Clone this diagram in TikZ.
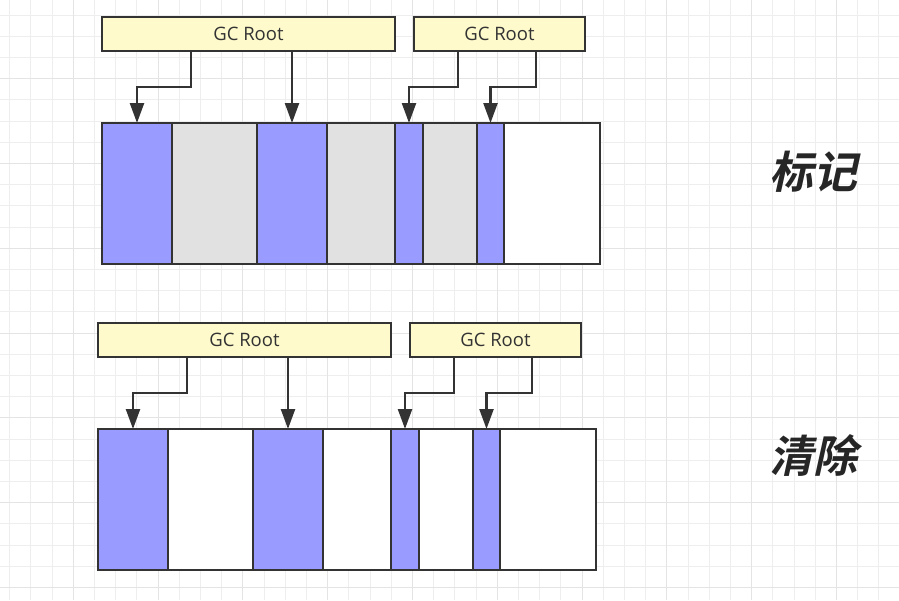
\documentclass[tikz,border=0pt]{standalone}
\usepackage{fontspec}
\usepackage{tikz}
\usetikzlibrary{arrows.meta,positioning}
\newfontfamily\uifont{Open Sans}
\newfontfamily\cjkfont[FakeSlant=0.22]{Noto Sans CJK SC Bold}
\definecolor{linec}{RGB}{51,51,51}
\definecolor{textc}{RGB}{51,51,51}
\definecolor{liveblue}{RGB}{153,155,255}
\definecolor{deadgrey}{RGB}{225,225,225}
\definecolor{rootyellow}{RGB}{254,250,204}
\definecolor{gridminor}{RGB}{238,238,238}
\definecolor{gridmajor}{RGB}{228,228,228}

\begin{document}
\begin{tikzpicture}[x=1pt,y=-1pt,
  cell/.style={draw=linec,line width=2.4pt,minimum height=141pt,inner sep=0pt,outer sep=0pt},
  live/.style={cell,fill=liveblue},
  root/.style={draw=linec,line width=2.4pt,fill=rootyellow,minimum height=34pt,
               inner sep=0pt,outer sep=0pt,text=textc,font=\uifont\fontsize{18.5}{18.5}\selectfont},
  arr/.style={-{Triangle[length=20pt,width=14pt]},line width=2.4pt,draw=linec},
  title/.style={font=\cjkfont\fontsize{44}{44}\selectfont,text=black!85}]
\useasboundingbox (0,0) rectangle (899,600);
\fill[white] (0,0) rectangle (899,600);
% background grid
\foreach \i in {0,...,41} \draw[gridminor,line width=1pt] (9.7+21.2*\i,0) -- (9.7+21.2*\i,600);
\foreach \i in {0,...,27} \draw[gridminor,line width=1pt] (0,15+21.2*\i) -- (899,15+21.2*\i);
\foreach \i in {3,7,...,39} \draw[gridmajor,line width=1pt] (9.7+21.2*\i,0) -- (9.7+21.2*\i,600);
\foreach \i in {3,7,...,27} \draw[gridmajor,line width=1pt] (0,15+21.2*\i) -- (899,15+21.2*\i);
% two heaps: t = after marking, b = after sweeping
\foreach \r/\dx/\dy/\gap in {t/0/0/deadgrey, b/-4/306/white} {
 \begin{scope}[shift={(\dx,\dy)}]
  \node[root,minimum width=293pt] (\r r1) at (248.5,34) {GC Root};
  \node[root,minimum width=171pt] (\r r2) at (499.5,34) {GC Root};
  \node[live,minimum width=70pt,anchor=north west] (\r c1) at (102,123) {};
  \node[cell,fill=\gap,minimum width=85pt,right=0pt of \r c1] (\r c2) {};
  \node[live,minimum width=70pt,right=0pt of \r c2] (\r c3) {};
  \node[cell,fill=\gap,minimum width=68pt,right=0pt of \r c3] (\r c4) {};
  \node[live,minimum width=28pt,right=0pt of \r c4] (\r c5) {};
  \node[cell,fill=\gap,minimum width=54pt,right=0pt of \r c5] (\r c6) {};
  \node[live,minimum width=27pt,right=0pt of \r c6] (\r c7) {};
  \node[cell,fill=white,minimum width=96pt,right=0pt of \r c7] (\r c8) {};
  \draw[arr] ([xshift=89pt]\r r1.south west) |- ([yshift=36pt]\r c1.north) -- (\r c1.north);
  \draw[arr] (\r c3.north |- \r r1.south) -- (\r c3.north);
  \draw[arr] ([xshift=44pt]\r r2.south west) |- ([yshift=36pt]\r c5.north) -- (\r c5.north);
  \draw[arr] ([xshift=122pt]\r r2.south west) |- ([yshift=36pt]\r c7.north) -- (\r c7.north);
 \end{scope}
}
\node[title] (marked) at (813,172) {标记};
\node[title] (swept) at (813,456) {清除};
\end{tikzpicture}
\end{document}
